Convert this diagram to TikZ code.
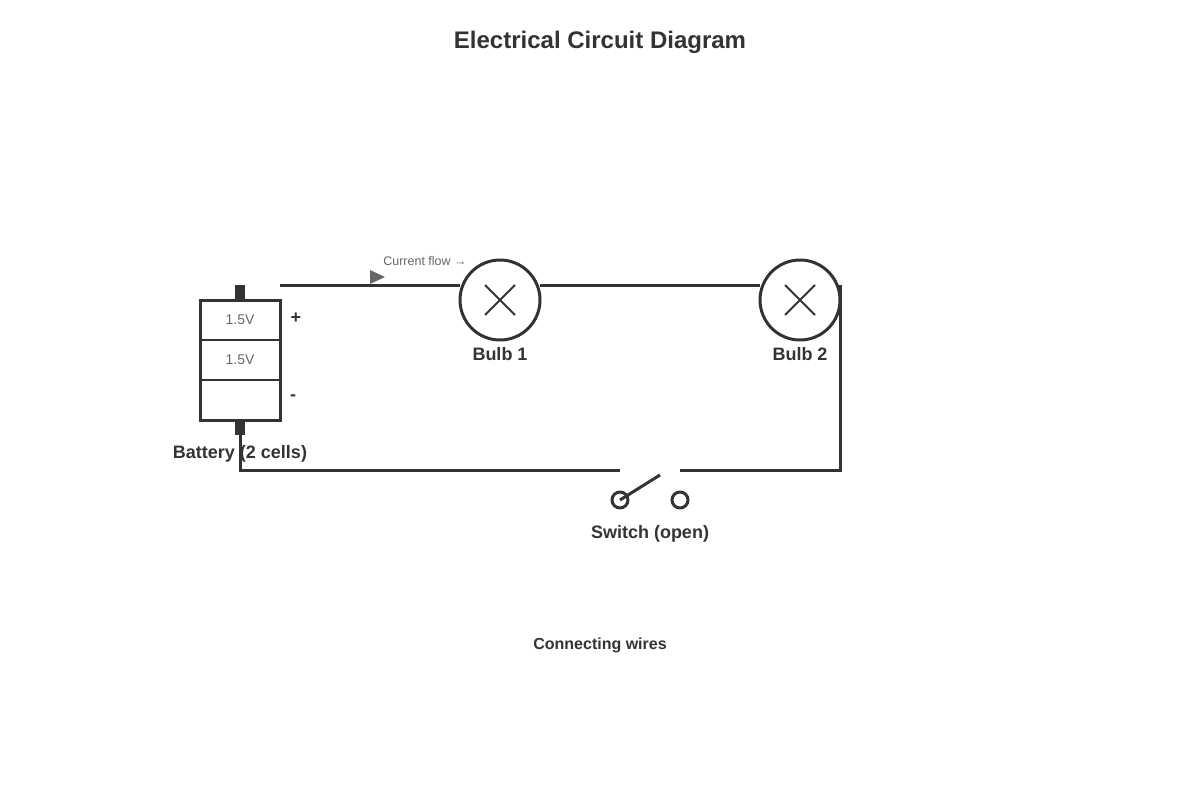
\documentclass[tikz,border=0pt]{standalone}
\usepackage{fontspec}
\setmainfont{Liberation Sans}
\begin{document}
\begin{tikzpicture}[x=1pt,y=-1pt,
  wire/.style={line width=3pt,draw=black!80},
  comp/.style={line width=3pt,draw=black!80,fill=white},
  lbl/.style={font=\bfseries\fontsize{18}{21}\selectfont,text=black!80},
  cell/.style={font=\fontsize{14}{16}\selectfont,text=black!60}]
\useasboundingbox (0,0) rectangle (1200,800);
\node[font=\bfseries\fontsize{24}{28}\selectfont,text=black!80] (title) at (600,42) {Electrical Circuit Diagram};
% wires
\coordinate (tw) at (280,285);
\coordinate (b1l) at (460,285);
\coordinate (b1r) at (540,285);
\coordinate (b2l) at (760,285);
\coordinate (rc) at (840,285);
\coordinate (br) at (840,470);
\coordinate (swr) at (680,470);
\coordinate (swl) at (620,470);
\coordinate (bl) at (240,470);
\coordinate (bt) at (240,430);
\draw[wire] (tw) -- (b1l);
\draw[wire] (b1r) -- (b2l);
\draw[wire] (rc) -- (br) -- (swr);
\draw[wire] (swl) -- (bl) -- (bt);
% battery
\fill[black!80] (235,285) rectangle (245,300);
\fill[black!80] (235,420) rectangle (245,435);
\draw[comp] (200,300) rectangle (280,420);
\draw[line width=2pt,black!80] (200,340) -- (280,340) (200,380) -- (280,380);
\node[cell] (c1) at (240,320) {1.5V};
\node[cell] (c2) at (240,360) {1.5V};
\node[lbl] (plus) at (296,318) {+};
\node[lbl] (minus) at (293,398) {-};
\node[lbl] (batl) at (240,454) {Battery (2 cells)};
% bulbs
\node[comp,circle,minimum size=80pt,inner sep=0] (bulb1) at (500,300) {};
\draw[line width=2pt,black!80] (485,285) -- (515,315) (485,315) -- (515,285);
\node[lbl] (b1lab) at (500,354) {Bulb 1};
\node[comp,circle,minimum size=80pt,inner sep=0] (bulb2) at (800,300) {};
\draw[line width=2pt,black!80] (785,285) -- (815,315) (785,315) -- (815,285);
\node[lbl] (b2lab) at (800,354) {Bulb 2};
% switch
\node[comp,circle,minimum size=16pt,inner sep=0] (s1) at (620,500) {};
\node[comp,circle,minimum size=16pt,inner sep=0] (s2) at (680,500) {};
\coordinate (lev) at (660,475);
\draw[wire] (s1.center) -- (lev);
\node[lbl] (swlab) at (650,534) {Switch (open)};
% current flow
\fill[black!60] (370,270) -- (385,277) -- (370,284) -- cycle;
\node[font=\fontsize{12.5}{14}\selectfont,text=black!60] (cf) at (425,261) {Current flow →};
\node[font=\bfseries\fontsize{16}{19}\selectfont,text=black!80] (cw) at (600,645) {Connecting wires};
\end{tikzpicture}
\end{document}
